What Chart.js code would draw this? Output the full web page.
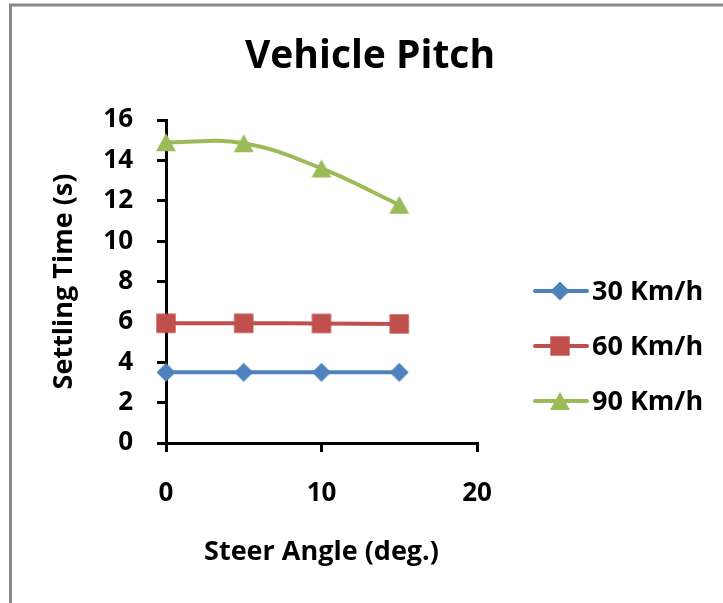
<!DOCTYPE html>
<html>
<head>
<meta charset="utf-8">
<script src="https://cdn.jsdelivr.net/npm/chart.js@4/dist/chart.umd.min.js"></script>
<style>
  html, body { margin: 0; padding: 0; background: #fff; }
  #wrap { width: 723px; height: 603px; }
</style>
</head>
<body>
<div id="wrap"><canvas id="c" width="723" height="603"></canvas></div>
<script>
// Settling time of vehicle pitch vs. steer angle, per speed
const steerAngles = [0, 5, 10, 15];
const speed30 = [3.5, 3.5, 3.5, 3.5];
const speed60 = [5.93, 5.93, 5.92, 5.9];
const speed90 = [14.9, 14.85, 13.6, 11.8];
const seriesLabels = ['30 Km/h', '60 Km/h', '90 Km/h'];
const chartTitle = 'Vehicle Pitch';
const xTitle = 'Steer Angle (deg.)';
const yTitle = 'Settling Time (s)';
const xRange = [0, 20], xStep = 10;
const yRange = [0, 16], yStep = 2;

const FONT = '"Open Sans", Lato, "Liberation Sans", sans-serif';
const COLORS = ['#4F81BD', '#C0504D', '#9BBB59'];

// Marker sprites, centred on their bounding box
function markerCanvas(kind, color) {
  const s = 22;
  const cv = document.createElement('canvas');
  cv.width = s; cv.height = s;
  const g = cv.getContext('2d');
  g.fillStyle = color;
  const c = s / 2;
  g.beginPath();
  if (kind === 'diamond') {
    const r = 9.5;
    g.moveTo(c, c - r); g.lineTo(c + r, c); g.lineTo(c, c + r); g.lineTo(c - r, c);
  } else if (kind === 'square') {
    const h = 9.7;
    g.rect(c - h, c - h, 2 * h, 2 * h);
  } else {
    const w = 10, h = 9;
    g.moveTo(c, c - h); g.lineTo(c + w, c + h); g.lineTo(c - w, c + h);
  }
  g.closePath();
  g.fill();
  return cv;
}
const markers = [
  markerCanvas('diamond', COLORS[0]),
  markerCanvas('square', COLORS[1]),
  markerCanvas('triangle', COLORS[2])
];

function pts(ys) { return steerAngles.map((x, i) => ({ x, y: ys[i] })); }

const frameAndText = {
  id: 'frameAndText',
  beforeDraw(chart) {
    const ctx = chart.ctx;
    ctx.save();
    ctx.strokeStyle = '#8a8a8a';
    ctx.lineWidth = 3;
    ctx.beginPath();
    ctx.moveTo(10.5, 603);
    ctx.lineTo(10.5, 5);
    ctx.lineTo(723, 5);
    ctx.stroke();
    ctx.restore();
  },
  afterDraw(chart) {
    const ctx = chart.ctx;
    ctx.save();
    // title
    ctx.fillStyle = '#000';
    ctx.font = 'bold 39px ' + FONT;
    ctx.textAlign = 'center';
    ctx.textBaseline = 'alphabetic';
    ctx.fillText(chartTitle, 370, 68);
    // legend
    const rows = [291, 346, 401];
    chart.data.datasets.forEach((ds, i) => {
      const y = rows[i];
      ctx.strokeStyle = ds.borderColor;
      ctx.lineWidth = 4;
      ctx.lineCap = 'round';
      ctx.beginPath();
      ctx.moveTo(535, y);
      ctx.lineTo(587, y);
      ctx.stroke();
      const m = markers[i];
      ctx.drawImage(m, 560 - m.width / 2, y - m.height / 2);
      ctx.fillStyle = '#000';
      ctx.font = 'bold 27px ' + FONT;
      ctx.textAlign = 'left';
      ctx.textBaseline = 'middle';
      ctx.fillText(ds.label, 592, y + 1);
    });
    ctx.restore();
  }
};

const axisFont = { family: FONT, size: 26, weight: 'bold' };
const titleFont = { family: FONT, size: 27, weight: 'bold' };

new Chart(document.getElementById('c'), {
  type: 'line',
  data: {
    datasets: [speed30, speed60, speed90].map((ys, i) => ({
      label: seriesLabels[i],
      data: pts(ys),
      borderColor: COLORS[i],
      backgroundColor: COLORS[i],
      borderWidth: 4,
      pointStyle: markers[i],
      pointRadius: 10,
      pointHoverRadius: 10,
      tension: 0.4,
      clip: false,
      fill: false
    }))
  },
  options: {
    responsive: false,
    animation: false,
    devicePixelRatio: 1,
    layout: { padding: { left: 48, right: 246, top: 120, bottom: 34 } },
    plugins: {
      legend: { display: false },
      title: { display: false },
      tooltip: { enabled: false }
    },
    events: [],
    scales: {
      x: {
        type: 'linear',
        min: xRange[0], max: xRange[1],
        ticks: { stepSize: xStep, color: '#000', font: axisFont, padding: 26, maxRotation: 0 },
        grid: { drawOnChartArea: false, drawTicks: true, tickLength: 9, color: '#000', lineWidth: 3 },
        border: { display: true, color: '#000', width: 3 },
        title: { display: true, text: xTitle, color: '#000', font: titleFont, padding: { top: 0, bottom: 0 } },
        afterFit(scale) { scale.height = 126; }
      },
      y: {
        type: 'linear',
        min: yRange[0], max: yRange[1],
        ticks: { stepSize: yStep, color: '#000', font: axisFont, padding: 24 },
        grid: { drawOnChartArea: false, drawTicks: true, tickLength: 9, color: '#000', lineWidth: 3 },
        border: { display: true, color: '#000', width: 3 },
        title: { display: true, text: yTitle, color: '#000', font: titleFont, padding: { top: 0, bottom: 0 } },
        afterFit(scale) { scale.width = 118; }
      }
    }
  },
  plugins: [frameAndText]
});
</script>
</body>
</html>
